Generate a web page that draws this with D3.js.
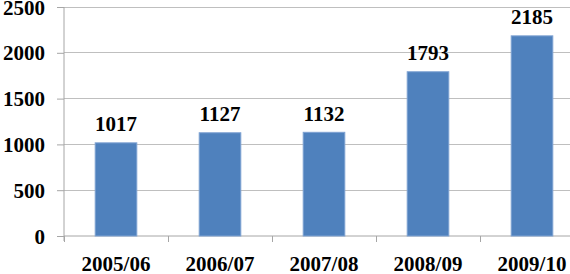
<!DOCTYPE html>
<html>
<head>
<meta charset="utf-8">
<script src="https://cdn.jsdelivr.net/npm/d3@7"></script>
<style>
  body { margin: 0; background: #fff; }
  svg { display: block; }
</style>
</head>
<body>
<svg id="chart" width="570" height="274"></svg>
<script>
// data
const years = ['2005/06', '2006/07', '2007/08', '2008/09', '2009/10'];
const counts = [1017, 1127, 1132, 1793, 2185];
const yTicks = [0, 500, 1000, 1500, 2000, 2500];

const serif = '"Liberation Serif"';
const svg = d3.select('#chart');

// plot area (right side runs past the window, like the source image)
const plotLeft = 64, plotRight = 584, plotTop = 7, plotBottom = 236;

const x = d3.scaleBand()
  .domain(years)
  .range([plotLeft, plotRight])
  .paddingInner(0.6)
  .paddingOuter(0.3);

const y = d3.scaleLinear()
  .domain([0, 2500])
  .range([plotBottom, plotTop]);

// horizontal gridlines
svg.append('g')
  .selectAll('line')
  .data(yTicks.filter(d => d > 0))
  .join('line')
  .attr('x1', plotLeft)
  .attr('x2', plotRight)
  .attr('y1', d => y(d))
  .attr('y2', d => y(d))
  .attr('stroke', '#bfbfbf')
  .attr('stroke-width', 1)
  .attr('shape-rendering', 'crispEdges');

// y axis
const yAxis = svg.append('g')
  .attr('transform', `translate(${plotLeft},0)`)
  .call(d3.axisLeft(y).tickValues(yTicks).tickSize(7).tickPadding(12).tickFormat(d3.format('d')));
yAxis.attr('font-family', null).attr('font-size', null);
yAxis.select('.domain').attr('stroke', '#a6a6a6').attr('d', `M0,${plotTop}V${plotBottom + 5}`);
yAxis.selectAll('.tick line').attr('stroke', '#a6a6a6');
yAxis.selectAll('.tick text')
  .attr('font-family', serif)
  .attr('font-weight', 'bold')
  .attr('font-size', 21)
  .attr('fill', '#000')
  .attr('dy', '0.34em');

// x axis
const xAxis = svg.append('g')
  .attr('transform', `translate(0,${plotBottom})`)
  .call(d3.axisBottom(x).tickSize(0).tickPadding(0));
xAxis.attr('font-family', null).attr('font-size', null);
xAxis.select('.domain').attr('stroke', '#a6a6a6').attr('d', `M${plotLeft},0H${plotRight}`);
xAxis.selectAll('.tick text')
  .attr('font-family', serif)
  .attr('font-weight', 'bold')
  .attr('font-size', 21)
  .attr('fill', '#000')
  .attr('y', 35)
  .attr('dy', 0);

// tick marks between categories
svg.append('g')
  .selectAll('line')
  .data(years)
  .join('line')
  .attr('x1', d => x(d) - x.step() * x.paddingOuter())
  .attr('x2', d => x(d) - x.step() * x.paddingOuter())
  .attr('y1', plotBottom)
  .attr('y2', plotBottom + 6)
  .attr('stroke', '#a6a6a6')
  .attr('shape-rendering', 'crispEdges');

// bars
svg.append('g')
  .selectAll('rect')
  .data(years)
  .join('rect')
  .attr('x', d => x(d))
  .attr('y', (d, i) => y(counts[i]))
  .attr('width', x.bandwidth())
  .attr('height', (d, i) => plotBottom - y(counts[i]))
  .attr('fill', '#4f81bd')
  .attr('stroke', '#7ea2d2')
  .attr('stroke-width', 1);

// value labels
svg.append('g')
  .selectAll('text')
  .data(years)
  .join('text')
  .attr('x', d => x(d) + x.bandwidth() / 2)
  .attr('y', (d, i) => y(counts[i]) - 11.5)
  .attr('text-anchor', 'middle')
  .attr('font-family', serif)
  .attr('font-weight', 'bold')
  .attr('font-size', 21)
  .attr('fill', '#000')
  .text((d, i) => counts[i]);
</script>
</body>
</html>
